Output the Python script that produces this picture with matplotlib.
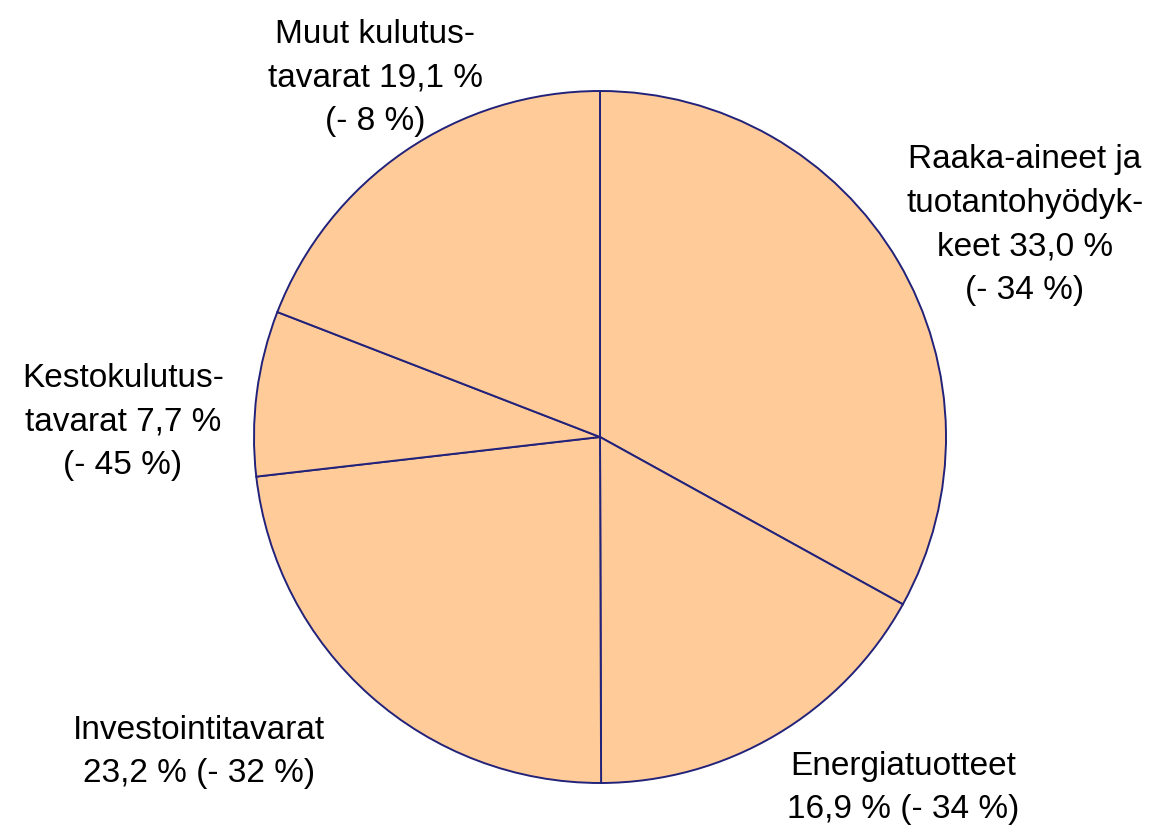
import matplotlib
matplotlib.use("Agg")
import matplotlib.pyplot as plt

categories = ["Raaka-aineet ja tuotantohyödykkeet", "Energiatuotteet",
              "Investointitavarat", "Kestokulutustavarat", "Muut kulutustavarat"]
shares = [33.0, 16.9, 23.2, 7.7, 19.1]
labels = ["Raaka-aineet ja\ntuotantohyödyk-\nkeet 33,0 %\n(- 34 %)",
          "Energiatuotteet\n16,9 % (- 34 %)",
          "Investointitavarat\n23,2 % (- 32 %)",
          "Kestokulutus-\ntavarat 7,7 %\n(- 45 %)",
          "Muut kulutus-\ntavarat 19,1 %\n(- 8 %)"]
# label centre positions in pixels (x, y from top)
label_px = [(1025, 225), (903, 788), (199, 752), (123, 422), (375, 78)]

W, H, DPI = 1172, 828, 100
cx, cy, R = 600, 438, 346

fig = plt.figure(figsize=(W / DPI, H / DPI), dpi=DPI)
ax = fig.add_axes([0, 0, 1, 1])
ax.pie(shares, startangle=90, counterclock=False, radius=1,
       colors=["#FFCC99"] * len(shares),
       wedgeprops=dict(edgecolor="#22227A", linewidth=1.4))
ax.set_xlim(-cx / R, (W - cx) / R)
ax.set_ylim(-(H - cy) / R, cy / R)
ax.set_aspect("equal")
ax.axis("off")

for lab, (px, py) in zip(labels, label_px):
    ax.text((px - cx) / R, (cy - py) / R, lab, ha="center", va="center",
            multialignment="center", fontsize=24,
            family=["Liberation Sans", "DejaVu Sans"], linespacing=1.52)

fig.savefig("out.png", dpi=DPI)
